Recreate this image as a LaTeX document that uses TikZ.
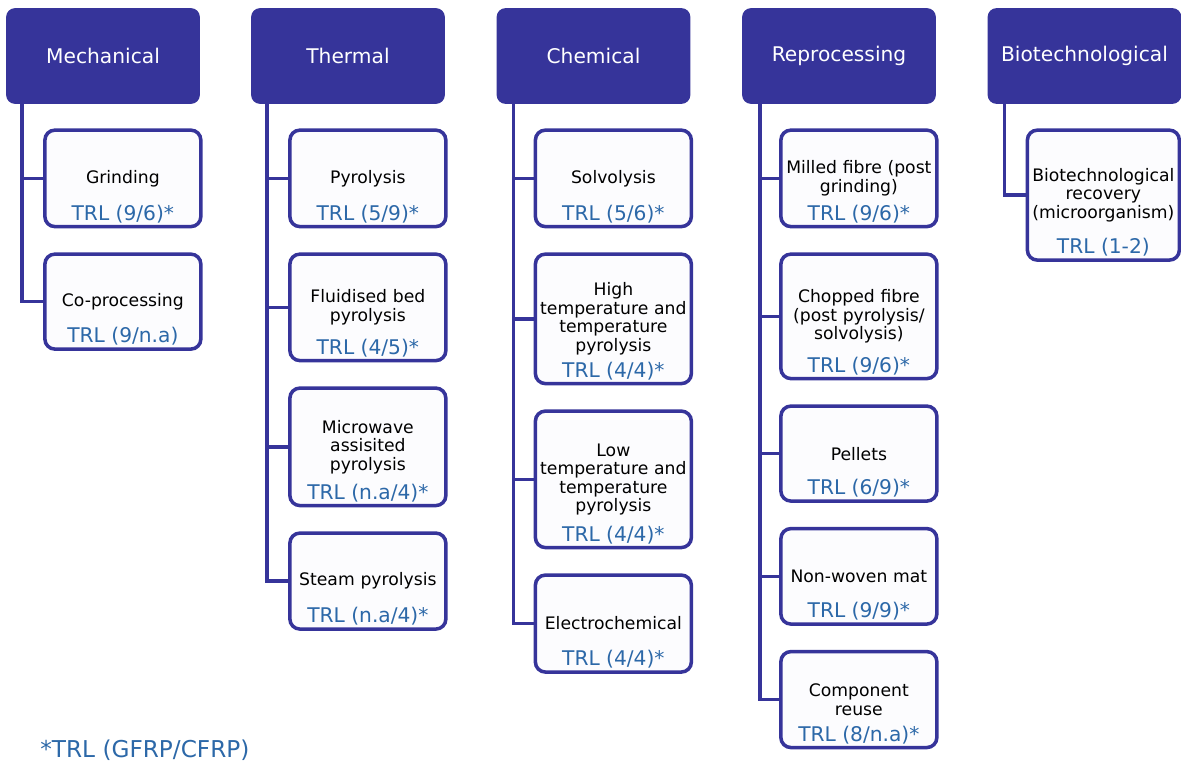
\documentclass[tikz,border=0pt]{standalone}
\usepackage{fontspec}
\setmainfont{DejaVu Sans}
\usetikzlibrary{positioning}
\definecolor{hdblue}{HTML}{36349A}
\definecolor{trlblue}{HTML}{2C68A8}
\definecolor{boxfill}{HTML}{FCFCFE}

\begin{document}
\begin{tikzpicture}[x=0.02cm,y=0.02cm,
  head/.style={draw=hdblue,fill=hdblue,rounded corners=0.16cm,line width=1pt,minimum width=3.84cm,minimum height=1.88cm,inner sep=0pt,text=white,font=\fontsize{11.5pt}{13pt}\selectfont},
  item/.style={draw=hdblue,fill=boxfill,rounded corners=0.2cm,line width=2pt,minimum width=3.12cm,text width=3.1cm,align=center,inner sep=0pt,font=\fontsize{9.8pt}{10.5pt}\selectfont},
  trl/.style={anchor=center,yshift=0.29cm,inner sep=0pt,text=trlblue,font=\fontsize{11.5pt}{13pt}\selectfont},
  trunk/.style={draw=hdblue,line width=2pt}]
  \useasboundingbox (0,0) rectangle (1181,-765);

  \node[head]     (mech)   at (103,-56)    {Mechanical};
  \node[head]     (therm)  at (348,-56)    {Thermal};
  \node[head]     (chem)   at (593.5,-56)  {Chemical};
  \node[head]     (repro)  at (839,-56)    {Reprocessing};
  \node[head]     (bio)    at (1084.5,-56) {Biotechnological};

  \node[item,minimum height=1.93cm,label={[trl]south:TRL (9/6)*}]   (m1) [below right=0.49cm and 0.74cm of mech.south west]  {Grinding};
  \node[item,minimum height=1.9cm,label={[trl]south:TRL (9/n.a)}]   (m2) [below=0.48cm of m1] {Co-processing};

  \node[item,minimum height=1.93cm,label={[trl]south:TRL (5/9)*}]   (t1) [below right=0.49cm and 0.74cm of therm.south west] {Pyrolysis};
  \node[item,minimum height=2.13cm,label={[trl]south:TRL (4/5)*}]   (t2) [below=0.48cm of t1] {Fluidised bed\\pyrolysis};
  \node[item,minimum height=2.35cm,label={[trl]south:TRL (n.a/4)*}] (t3) [below=0.48cm of t2] {Microwave\\assisited\\pyrolysis};
  \node[item,minimum height=1.92cm,label={[trl]south:TRL (n.a/4)*}] (t4) [below=0.48cm of t3] {Steam pyrolysis};

  \node[item,minimum height=1.93cm,label={[trl]south:TRL (5/6)*}]   (c1) [below right=0.49cm and 0.74cm of chem.south west]  {Solvolysis};
  \node[item,minimum height=2.59cm,label={[trl]south:TRL (4/4)*}]   (c2) [below=0.48cm of c1] {High\\temperature and\\temperature\\pyrolysis};
  \node[item,minimum height=2.73cm,label={[trl]south:TRL (4/4)*}]   (c3) [below=0.48cm of c2] {Low\\temperature and\\temperature\\pyrolysis};
  \node[item,minimum height=1.94cm,label={[trl]south:TRL (4/4)*}]   (c4) [below=0.48cm of c3] {Electrochemical};

  \node[item,minimum height=1.93cm,label={[trl]south:TRL (9/6)*}]   (r1) [below right=0.49cm and 0.74cm of repro.south west] {Milled fibre (post\\grinding)};
  \node[item,minimum height=2.49cm,label={[trl]south:TRL (9/6)*}]   (r2) [below=0.48cm of r1] {Chopped fibre\\(post pyrolysis/\\solvolysis)};
  \node[item,minimum height=1.9cm,label={[trl]south:TRL (6/9)*}]    (r3) [below=0.48cm of r2] {Pellets};
  \node[item,minimum height=1.91cm,label={[trl]south:TRL (9/9)*}]   (r4) [below=0.48cm of r3] {Non-woven mat};
  \node[item,minimum height=1.92cm,label={[trl]south:TRL (8/n.a)*}] (r5) [below=0.48cm of r4] {Component\\reuse};

  \node[item,minimum width=3.04cm,text width=3.04cm,minimum height=2.6cm,label={[trl]south:TRL (1-2)}] (b1) [below right=0.49cm and 0.76cm of bio.south west] {Biotechnological\\recovery\\(microorganism)};

  \draw[trunk] ([xshift=0.32cm]mech.south west)  |- (m1.west) ([xshift=0.32cm]mech.south west)  |- (m2.west);
  \draw[trunk] ([xshift=0.32cm]therm.south west) |- (t1.west) ([xshift=0.32cm]therm.south west) |- (t2.west)
               ([xshift=0.32cm]therm.south west) |- (t3.west) ([xshift=0.32cm]therm.south west) |- (t4.west);
  \draw[trunk] ([xshift=0.34cm]chem.south west)  |- (c1.west) ([xshift=0.34cm]chem.south west)  |- (c2.west)
               ([xshift=0.34cm]chem.south west)  |- (c3.west) ([xshift=0.34cm]chem.south west)  |- (c4.west);
  \draw[trunk] ([xshift=0.36cm]repro.south west) |- (r1.west) ([xshift=0.36cm]repro.south west) |- (r2.west)
               ([xshift=0.36cm]repro.south west) |- (r3.west) ([xshift=0.36cm]repro.south west) |- (r4.west)
               ([xshift=0.36cm]repro.south west) |- (r5.west);
  \draw[trunk] ([xshift=0.34cm]bio.south west)   |- (b1.west);

  \node[anchor=west,inner sep=0pt,text=trlblue,font=\fontsize{13.2pt}{15pt}\selectfont] (key) at (40,-750) {*TRL (GFRP/CFRP)};
\end{tikzpicture}
\end{document}
